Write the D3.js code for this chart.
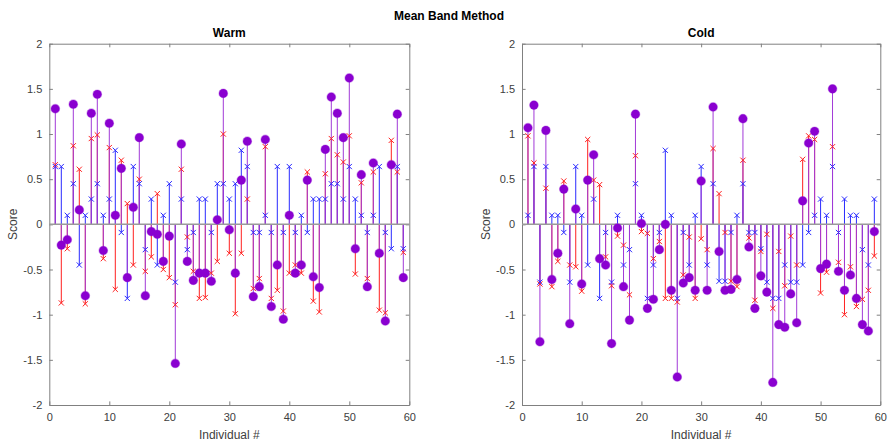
<!DOCTYPE html>
<html>
<head>
<meta charset="utf-8">
<script src="https://cdn.jsdelivr.net/npm/d3@7"></script>
<style>
  body { margin: 0; background: #fff; }
  svg { display: block; font-family: "Liberation Sans", Arial, sans-serif; }
</style>
</head>
<body>
<svg id="graph" width="889" height="446"></svg>
<script>
const GRAPH = d3.select('#graph');
const HEIGHT = 446;
const PLOT_TOP = 43.7;
const PLOT_BOTTOM = 405;
const RED = '#ff2020';
const BLUE = '#2a2aff';
const PURPLE = '#8a00d0';
const PURPLE_STEM = '#a23ad8';
const AXIS_GREY = '#808080';
const TEXT_GREY = '#404040';

// DATA

const individuals = d3.range(1, 60);
const xTicks = [0, 10, 20, 30, 40, 50, 60];
const yTicks = [-2, -1.5, -1, -0.5, 0, 0.5, 1, 1.5, 2];

const warmRed = [0.66, -0.87, -0.27, 0.87, 0.61, -0.88, 0.95, 0.99, -0.38, 0.85,
  -0.72, 0.71, 0.23, -0.45, 0.50, -0.52, -0.36, 0.34, -0.50, -0.59,
  -0.89, 0.61, -0.14, -0.52, -0.82, -0.81, -0.54, -0.41, 1.00, -0.32,
  -0.99, -0.32, 0.28, -0.71, -0.60, 0.86, -0.82, -0.73, -0.96, -0.54,
  -0.45, -0.54, 0.58, -0.85, -0.97, 0.56, 0.95, 0.77, 0.69, 0.98,
  -0.55, 0.46, -0.60, 0.58, -0.95, -0.98, 0.93, 0.58, -0.31];
const warmBlue = [0.64, 0.64, 0.10, 0.45, -0.45, 0.10, 0.28, 0.45, 0.10, 0.28,
  0.82, -0.09, -0.82, 0.64, 0.45, -0.28, 0.28, -0.45, 0.10, 0.45,
  -0.64, 0.28, -0.28, -0.09, 0.28, 0.28, -0.09, 0.45, 0.45, 0.28,
  0.45, 0.82, 0.64, -0.09, -0.09, 0.10, -0.09, 0.64, -0.09, 0.64,
  -0.09, 0.10, -0.09, 0.28, 0.28, 0.28, 0.45, 0.45, 0.28, 0.64,
  0.28, 0.10, -0.09, 0.10, 0.64, -0.09, -0.27, 0.64, -0.27];
const warmMean = [1.28, -0.23, -0.17, 1.33, 0.16, -0.79, 1.23, 1.44, -0.29, 1.12,
  0.10, 0.62, -0.59, 0.19, 0.96, -0.79, -0.08, -0.11, -0.41, -0.13,
  -1.54, 0.89, -0.41, -0.62, -0.54, -0.54, -0.63, 0.05, 1.45, -0.06,
  -0.54, 0.49, 0.92, -0.80, -0.69, 0.94, -0.91, -0.45, -1.05, 0.10,
  -0.54, -0.45, 0.49, -0.58, -0.70, 0.83, 1.41, 1.23, 0.96, 1.62,
  -0.27, 0.55, -0.69, 0.68, -0.32, -1.07, 0.66, 1.22, -0.59];

const coldRed = [0.98, 0.68, -0.66, 0.40, -0.69, -0.41, 0.48, -0.45, -0.47, -0.74,
  0.94, 0.49, 0.44, -0.36, -0.68, -0.13, -0.23, -0.78, 0.76, -0.08,
  -0.10, -0.38, -0.19, -0.82, -0.82, -0.86, -0.56, -0.14, -0.82, -0.16,
  -0.28, 0.84, 0.34, -0.09, -0.63, -0.69, 0.71, -0.15, -0.84, -0.30,
  -0.11, -0.93, -0.30, -0.68, -0.13, -0.45, 0.72, 0.98, 0.94, -0.76,
  -0.53, 0.86, -0.42, -1.00, -0.47, -0.91, -0.83, -0.73, -0.35];
const coldBlue = [0.10, 0.64, -0.64, 0.64, 0.10, 0.10, -0.09, -0.64, 0.64, 0.10,
  -0.45, 0.28, -0.82, -0.09, -0.64, 0.10, -0.45, -0.28, 0.45, 0.10,
  -0.82, -0.45, -0.09, 0.82, 0.10, -0.82, -0.09, -0.45, 0.10, 0.64,
  -0.45, 0.45, -0.63, -0.63, -0.09, 0.10, 0.45, -0.09, -0.09, -0.27,
  -0.64, -0.82, -0.82, -0.45, -0.64, -0.64, -0.45, -0.09, 0.10, 0.28,
  0.10, 0.64, -0.09, 0.28, 0.10, 0.10, -0.28, -0.45, 0.28];
const coldMean = [1.07, 1.32, -1.30, 1.04, -0.61, -0.32, 0.39, -1.10, 0.17, -0.66,
  0.49, 0.77, -0.38, -0.45, -1.32, -0.04, -0.69, -1.06, 1.22, 0.01,
  -0.93, -0.83, -0.28, 0.00, -0.73, -1.69, -0.65, -0.59, -0.73, 0.48,
  -0.73, 1.30, -0.30, -0.73, -0.72, -0.61, 1.17, -0.25, -0.93, -0.57,
  -0.75, -1.75, -1.11, -1.14, -0.77, -1.09, 0.26, 0.90, 1.03, -0.49,
  -0.44, 1.50, -0.52, -0.73, -0.56, -0.82, -1.11, -1.18, -0.08];

// FUNCTIONS

function drawPanel(left, right, title, red, blue, mean, showYLabel) {
  const x = d3.scaleLinear().domain([0, 60]).range([left, right]);
  const y = d3.scaleLinear().domain([-2, 2]).range([PLOT_BOTTOM, PLOT_TOP]);
  const g = GRAPH.append('g');

  // axes box with inward ticks (MATLAB style)
  const ax = g.append('g').attr('font-size', 11).attr('fill', TEXT_GREY);
  ax.append('g')
    .attr('transform', `translate(0,${PLOT_BOTTOM})`)
    .call(d3.axisBottom(x).tickValues(xTicks).tickSizeInner(-3.6).tickSizeOuter(0).tickPadding(8));
  ax.append('g')
    .attr('transform', `translate(0,${PLOT_TOP})`)
    .call(d3.axisTop(x).tickValues(xTicks).tickSizeInner(-3.6).tickSizeOuter(0).tickFormat(''));
  ax.append('g')
    .attr('transform', `translate(${left},0)`)
    .call(d3.axisLeft(y).tickValues(yTicks).tickSizeInner(-3.6).tickSizeOuter(0).tickPadding(7)
      .tickFormat(d3.format('')));
  ax.append('g')
    .attr('transform', `translate(${right},0)`)
    .call(d3.axisRight(y).tickValues(yTicks).tickSizeInner(-3.6).tickSizeOuter(0).tickFormat(''));
  ax.selectAll('.domain, .tick line').attr('stroke', AXIS_GREY);
  ax.selectAll('.tick text').attr('fill', TEXT_GREY).attr('font-size', 11)
    .attr('font-family', '"Liberation Sans", Arial, sans-serif');
  ax.selectAll('.tick text').text(function () { return this.textContent.replace('−', '-'); });

  // stems and markers, one series after another
  drawSeries(g, x, y, red, RED, RED, 'cross');
  drawSeries(g, x, y, blue, BLUE, BLUE, 'cross');
  drawSeries(g, x, y, mean, PURPLE_STEM, PURPLE, 'circle');

  // baseline
  g.append('line')
    .attr('x1', left).attr('x2', right)
    .attr('y1', y(0)).attr('y2', y(0))
    .attr('stroke', '#9a9a9a').attr('stroke-width', 1.5);

  // redraw markers on top of baseline
  drawMarkers(g, x, y, red, RED, 'cross');
  drawMarkers(g, x, y, blue, BLUE, 'cross');
  drawMarkers(g, x, y, mean, PURPLE, 'circle');

  g.append('text')
    .attr('x', (left + right) / 2).attr('y', 37)
    .attr('text-anchor', 'middle').attr('font-weight', 'bold').attr('font-size', 12)
    .attr('fill', '#000').text(title);
  g.append('text')
    .attr('x', (left + right) / 2).attr('y', 439)
    .attr('text-anchor', 'middle').attr('font-size', 12)
    .attr('fill', TEXT_GREY).text('Individual #');
  g.append('text')
    .attr('transform', `translate(${left - 32},${y(0)}) rotate(-90)`)
    .attr('text-anchor', 'middle').attr('font-size', 12)
    .attr('fill', TEXT_GREY).text('Score');
}

function drawSeries(g, x, y, values, stemColor, markerColor, shape) {
  g.append('g').selectAll('line')
    .data(values)
    .join('line')
    .attr('x1', (d, i) => x(individuals[i]))
    .attr('x2', (d, i) => x(individuals[i]))
    .attr('y1', y(0))
    .attr('y2', d => y(d))
    .attr('stroke', stemColor)
    .attr('stroke-width', 1);
}

function drawMarkers(g, x, y, values, color, shape) {
  const m = g.append('g');
  if (shape === 'circle') {
    m.selectAll('circle')
      .data(values)
      .join('circle')
      .attr('cx', (d, i) => x(individuals[i]))
      .attr('cy', d => y(d))
      .attr('r', 4.3)
      .attr('fill', color)
      .attr('stroke', color)
      .attr('stroke-opacity', 0.35)
      .attr('stroke-width', 1.2);
  } else {
    const s = 2.6;
    m.selectAll('path')
      .data(values)
      .join('path')
      .attr('d', (d, i) => {
        const cx = x(individuals[i]);
        const cy = y(d);
        return `M${cx - s},${cy - s}L${cx + s},${cy + s}M${cx - s},${cy + s}L${cx + s},${cy - s}`;
      })
      .attr('stroke', color)
      .attr('stroke-width', 1)
      .attr('fill', 'none');
  }
}

GRAPH.append('text')
  .attr('x', 449).attr('y', 20)
  .attr('text-anchor', 'middle').attr('font-weight', 'bold').attr('font-size', 12)
  .text('Mean Band Method');

drawPanel(49.3, 409.3, 'Warm', warmRed, warmBlue, warmMean, true);
drawPanel(522, 880.3, 'Cold', coldRed, coldBlue, coldMean, true);
</script>
</body>
</html>
